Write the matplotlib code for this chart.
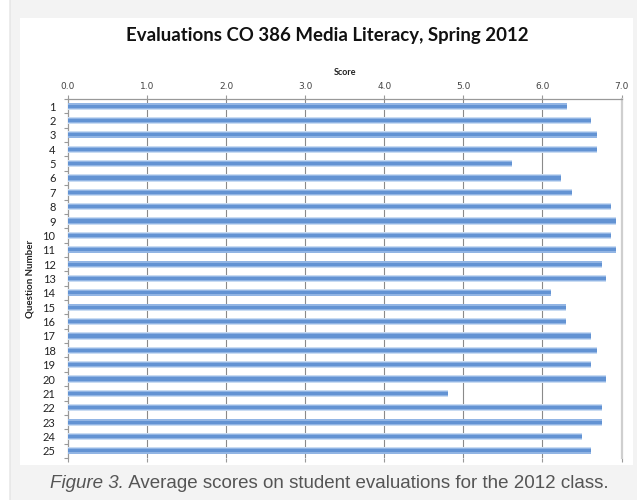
import matplotlib
matplotlib.use("Agg")
import matplotlib.pyplot as plt
from matplotlib.patches import FancyBboxPatch, Rectangle
import numpy as np

# Data
questions = list(range(1, 26))
scores = [6.31, 6.62, 6.69, 6.69, 5.61, 6.24, 6.38, 6.87, 6.93, 6.87,
          6.93, 6.75, 6.81, 6.11, 6.30, 6.30, 6.62, 6.69, 6.62, 6.81,
          4.80, 6.75, 6.75, 6.50, 6.62]
x_ticks = [0.0, 1.0, 2.0, 3.0, 4.0, 5.0, 6.0, 7.0]

title = "Evaluations CO 386 Media Literacy, Spring 2012"
caption_a = "Figure 3."
caption_b = " Average scores on student evaluations for the 2012 class."

W, H = 637, 500
fig = plt.figure(figsize=(W / 100, H / 100), dpi=100)
fig.patch.set_facecolor("white")

# Grey frame with rounded corner and white chart panel
frame = FancyBboxPatch((10 / W, -20 / H), 640 / W, 530 / H,
                       boxstyle="round,pad=0,rounding_size=0.008",
                       transform=fig.transFigure, facecolor="#f3f3f3",
                       edgecolor="#e4e4e4", linewidth=1, zorder=0)
fig.patches.append(frame)
panel = Rectangle((20 / W, 1 - 465 / H), 613 / W, 447 / H,
                  transform=fig.transFigure, facecolor="white",
                  edgecolor="none", zorder=1)
fig.patches.append(panel)

# Axes placement
left, top, right, bottom = 68, 99, 621.5, 458
ax = fig.add_axes([left / W, 1 - bottom / H, (right - left) / W, (bottom - top) / H])
ax.set_facecolor("none")
ax.set_zorder(2)

y = np.array(questions)
vals = np.array(scores)
# layered bars give the soft Excel gradient look
ax.barh(y, vals, height=0.5, color="#cadcf2", edgecolor="none", zorder=3)
ax.barh(y, vals, height=0.38, color="#92b5e4", edgecolor="none", zorder=4)
ax.barh(y, vals, height=0.22, color="#6393d3", edgecolor="none", zorder=5)

ax.set_xlim(0, 7)
ax.set_ylim(25.5, 0.5)

# vertical gridlines
for xv in x_ticks[1:-1]:
    ax.axvline(xv, color="#8a8a8a", linewidth=0.8, zorder=2)

# axis on top
ax.xaxis.set_ticks_position("both")
ax.xaxis.set_label_position("top")
ax.tick_params(axis="x", labeltop=True, labelbottom=False, top=True, bottom=True,
               length=3, width=0.8, color="#999999", labelsize=6.5,
               labelcolor="#444444", pad=3)
ax.set_xticks(x_ticks)
ax.set_xticklabels([f"{v:.1f}" for v in x_ticks], fontfamily="DejaVu Sans")
ax.set_xlabel("Score", fontsize=6.5, fontweight="bold", fontfamily="Lato",
              color="#222222", labelpad=5)

ax.set_yticks(questions)
ax.set_yticklabels([str(q) for q in questions], fontfamily="Lato")
ax.set_yticks(np.arange(0.5, 26, 1), minor=True)
ax.tick_params(axis="y", which="major", length=0, labelsize=8,
               labelcolor="#222222", pad=9)
ax.tick_params(axis="y", which="minor", length=3, width=0.8, color="#999999")
ax.set_ylabel("Question Number", fontsize=7, fontweight="bold",
              fontfamily="Lato", color="#222222", labelpad=6)

ax.spines["left"].set_color("#999999")
ax.spines["left"].set_linewidth(0.9)
ax.spines["top"].set_color("#999999")
ax.spines["top"].set_linewidth(0.9)
ax.spines["right"].set_color("#cfcfcf")
ax.spines["right"].set_linewidth(1.6)
ax.spines["bottom"].set_visible(False)

fig.text(327 / W, 1 - 35 / H, title, ha="center", va="center",
         fontsize=13.4, fontweight="bold", fontfamily="Lato", color="#111111")

# caption: italic lead-in followed by regular text, centred as a whole
cap_y = 1 - 484 / H
cap_fs = 13.5
t1 = fig.text(0, cap_y, caption_a, ha="left", va="center", fontsize=cap_fs,
              fontstyle="italic", fontfamily="Liberation Sans", color="#555555")
t2 = fig.text(0, cap_y, caption_b, ha="left", va="center", fontsize=cap_fs,
              fontfamily="Liberation Sans", color="#555555")
fig.canvas.draw()
w1 = t1.get_window_extent().width
w2 = t2.get_window_extent().width
x0 = 329 - (w1 + w2) / 2
t1.set_x(x0 / W)
t2.set_x((x0 + w1) / W)

fig.savefig("out.png", dpi=100)
